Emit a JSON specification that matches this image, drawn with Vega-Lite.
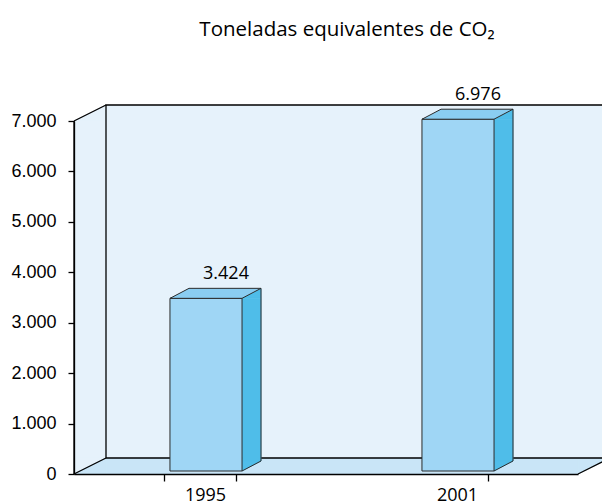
{
  "$schema": "https://vega.github.io/schema/vega-lite/v6.json",
  "width": 504,
  "height": 353,
  "autosize": {"type": "none"},
  "padding": {"left": 74, "top": 121, "right": 24, "bottom": 30},
  "title": {
    "text": "Toneladas equivalentes de CO₂",
    "font": "Open Sans",
    "fontSize": 20.5,
    "fontWeight": "normal",
    "color": "#000000",
    "anchor": "middle",
    "frame": "group",
    "baseline": "alphabetic",
    "dx": 21,
    "offset": 30
  },
  "config": {
    "locale": {"number": {"decimal": ",", "thousands": ".", "grouping": [3], "currency": ["", " €"]}},
    "view": {"stroke": null},
    "axisX": {
      "labelAngle": 0,
      "tickBand": "extent",
      "tickSize": 7,
      "tickColor": "#000000",
      "tickWidth": 1.3,
      "domain": true,
      "domainColor": "#000000",
      "domainWidth": 1.3,
      "labelFont": "Open Sans",
      "labelFontSize": 18,
      "labelColor": "#000000",
      "labelPadding": 5,
      "labelOffset": 5,
      "zindex": 2
    },
    "axisY": {
      "grid": false,
      "tickSize": 6,
      "tickColor": "#000000",
      "tickWidth": 1.3,
      "domain": true,
      "domainColor": "#000000",
      "domainWidth": 1.3,
      "labelFont": "Liberation Sans",
      "labelFontSize": 18,
      "labelColor": "#000000",
      "labelPadding": 12,
      "zindex": 2
    }
  },
  "data": {
    "values": [
      {"year": "1995", "value": 3424},
      {"year": "2001", "value": 6976}
    ]
  },
  "layer": [
    {
      "data": {"values": [{}]},
      "mark": {"type": "rect", "fill": "#e6f2fb", "x2Offset": 32, "y2Offset": -16},
      "encoding": {
        "x": {"value": 0},
        "x2": {"value": 0},
        "y": {"datum": 7000, "type": "quantitative", "scale": {"domain": [0, 7000], "nice": false}},
        "y2": {"datum": 0}
      }
    },
    {
      "data": {"values": [{}]},
      "mark": {"type": "point", "shape": "M0,0L32,-16L32,0Z", "size": 4, "filled": true, "fill": "#e6f2fb", "stroke": "#e6f2fb", "strokeWidth": 0.6, "opacity": 1},
      "encoding": {"x": {"value": 0}, "y": {"datum": 7000, "type": "quantitative"}}
    },
    {
      "data": {"values": [{}]},
      "mark": {"type": "point", "shape": "M0,-16L0,0L32,-16Z", "size": 4, "filled": true, "fill": "#e6f2fb", "stroke": "#e6f2fb", "strokeWidth": 0.6, "opacity": 1},
      "encoding": {"x": {"value": 0}, "y": {"datum": 0, "type": "quantitative"}}
    },
    {
      "data": {"values": [{}]},
      "mark": {"type": "rect", "fill": "#c9e5f7", "xOffset": 32, "yOffset": -16},
      "encoding": {
        "x": {"value": 0},
        "x2": {"value": "width"},
        "y": {"datum": 0, "type": "quantitative"},
        "y2": {"datum": 0}
      }
    },
    {
      "data": {"values": [{}]},
      "mark": {"type": "point", "shape": "M0,0L32,-16L32,0Z", "size": 4, "filled": true, "fill": "#c9e5f7", "stroke": "#c9e5f7", "strokeWidth": 0.6, "opacity": 1},
      "encoding": {"x": {"value": 0}, "y": {"datum": 0, "type": "quantitative"}}
    },
    {
      "data": {"values": [{}]},
      "mark": {"type": "point", "shape": "M0,0L0,-16L32,-16Z", "size": 4, "filled": true, "fill": "#c9e5f7", "stroke": "#c9e5f7", "strokeWidth": 0.6, "opacity": 1},
      "encoding": {"x": {"value": "width"}, "y": {"datum": 0, "type": "quantitative"}}
    },
    {
      "data": {"values": [{}]},
      "mark": {"type": "rect", "fill": "#e6f2fb", "stroke": "#000000", "strokeWidth": 1.3, "xOffset": 32, "x2Offset": 32, "yOffset": -16, "y2Offset": -16},
      "encoding": {
        "x": {"value": 0},
        "x2": {"value": "width"},
        "y": {"datum": 7000, "type": "quantitative"},
        "y2": {"datum": 0}
      }
    },
    {
      "data": {"values": [{}]},
      "mark": {"type": "rule", "color": "#000000", "strokeWidth": 1.3},
      "encoding": {
        "x": {"value": 0},
        "y": {"datum": 7000, "type": "quantitative"},
        "y2": {"datum": 0}
      }
    },
    {
      "data": {"values": [{}]},
      "mark": {"type": "rule", "color": "#000000", "strokeWidth": 1.3, "x2Offset": 32, "y2Offset": -16},
      "encoding": {
        "x": {"value": 0},
        "x2": {"value": 0},
        "y": {"datum": 7000, "type": "quantitative"},
        "y2": {"datum": 7000}
      }
    },
    {
      "data": {"values": [{}]},
      "mark": {"type": "rule", "color": "#000000", "strokeWidth": 1.3, "x2Offset": 32, "y2Offset": -16},
      "encoding": {
        "x": {"value": 0},
        "x2": {"value": 0},
        "y": {"datum": 0, "type": "quantitative"},
        "y2": {"datum": 0}
      }
    },
    {
      "data": {"values": [{}]},
      "mark": {"type": "rule", "color": "#000000", "strokeWidth": 1.3, "x2Offset": 32, "y2Offset": -16},
      "encoding": {
        "x": {"value": "width"},
        "x2": {"value": "width"},
        "y": {"datum": 0, "type": "quantitative"},
        "y2": {"datum": 0}
      }
    },
    {
      "mark": {"type": "rect", "fill": "#4fbde9", "stroke": "#4fbde9", "strokeWidth": 0.6, "xOffset": 6, "x2Offset": 25, "yOffset": -3, "y2Offset": -13},
      "encoding": {
        "x": {"field": "year", "type": "nominal", "bandPosition": 1, "title": null},
        "x2": {"field": "year", "bandPosition": 1},
        "y": {"field": "value", "type": "quantitative", "title": null},
        "y2": {"datum": 0}
      }
    },
    {
      "mark": {"type": "point", "shape": "M42,-3L61,-13L61,-3Z", "size": 4, "filled": true, "fill": "#4fbde9", "stroke": "#4fbde9", "strokeWidth": 0.6, "opacity": 1},
      "encoding": {
        "x": {"field": "year", "type": "nominal", "title": null},
        "y": {"field": "value", "type": "quantitative", "title": null}
      }
    },
    {
      "mark": {"type": "point", "shape": "M42,-13L42,-3L61,-13Z", "size": 4, "filled": true, "fill": "#4fbde9", "stroke": "#4fbde9", "strokeWidth": 0.6, "opacity": 1},
      "encoding": {
        "x": {"field": "year", "type": "nominal", "title": null},
        "y": {"datum": 0, "type": "quantitative"}
      }
    },
    {
      "mark": {"type": "bar", "fill": "#9fd6f5", "stroke": "#2b2b2b", "strokeWidth": 1, "xOffset": 6, "x2Offset": 6, "yOffset": -3, "y2Offset": -3},
      "encoding": {
        "x": {
          "field": "year",
          "type": "nominal",
          "title": null,
          "scale": {"type": "band", "paddingInner": 0.714, "paddingOuter": 0.357},
          "axis": {"zindex": 2, "domain": true}
        },
        "y": {
          "field": "value",
          "type": "quantitative",
          "title": null,
          "scale": {"domain": [0, 7000], "nice": false},
          "axis": {"values": [0, 1000, 2000, 3000, 4000, 5000, 6000, 7000], "format": ",d", "zindex": 2, "domain": true}
        },
        "y2": {"datum": 0}
      }
    },
    {
      "mark": {"type": "point", "shape": "M-30,-3L42,-3L61,-13L-11,-13Z", "size": 4, "filled": true, "fill": "#8acdf1", "stroke": "#2b2b2b", "strokeWidth": 1, "opacity": 1},
      "encoding": {
        "x": {"field": "year", "type": "nominal", "title": null},
        "y": {"field": "value", "type": "quantitative", "title": null}
      }
    },
    {
      "mark": {"type": "rule", "color": "#2b2b2b", "strokeWidth": 1, "xOffset": 61, "yOffset": -13, "y2Offset": -13},
      "encoding": {
        "x": {"field": "year", "type": "nominal", "title": null},
        "y": {"field": "value", "type": "quantitative", "title": null},
        "y2": {"datum": 0}
      }
    },
    {
      "mark": {"type": "rule", "color": "#2b2b2b", "strokeWidth": 1, "xOffset": 42, "x2Offset": 61, "yOffset": -3, "y2Offset": -13},
      "encoding": {
        "x": {"field": "year", "type": "nominal", "title": null},
        "x2": {"field": "year"},
        "y": {"datum": 0, "type": "quantitative"},
        "y2": {"datum": 0}
      }
    },
    {
      "mark": {"type": "text", "font": "Open Sans", "fontSize": 18, "color": "#000000", "align": "center", "baseline": "alphabetic", "dx": 26, "dy": -22},
      "encoding": {
        "x": {"field": "year", "type": "nominal", "title": null},
        "y": {"field": "value", "type": "quantitative", "title": null},
        "text": {"field": "value", "type": "quantitative", "format": ",d"}
      }
    }
  ]
}
